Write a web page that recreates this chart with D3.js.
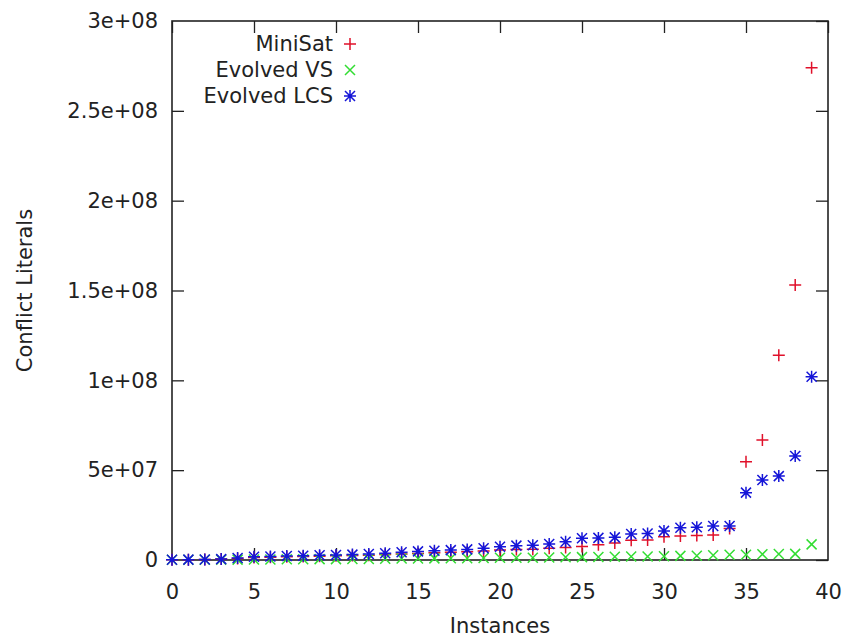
<!DOCTYPE html>
<html>
<head>
<meta charset="utf-8">
<script src="https://cdn.jsdelivr.net/npm/d3@7"></script>
<style>
  body { margin: 0; background: #fff; }
  text { font-family: "DejaVu Sans", sans-serif; fill: #222; }
</style>
</head>
<body>
<div id="chart"></div>
<script>
// valeurs (en millions de littéraux)
const instances = d3.range(0, 40);
const miniSat = [0.1, 0.2, 0.3, 0.5, 0.9, 1.4, 1.6, 1.8, 2.0, 2.1,
                 2.3, 2.5, 2.7, 3.0, 3.3, 3.6, 4.0, 4.3, 4.6, 5.0,
                 5.5, 5.8, 6.0, 6.5, 7.0, 7.5, 8.5, 9.5, 11.0, 11.2,
                 13.0, 13.4, 13.6, 13.9, 17.5, 54.7, 66.8, 114, 153, 274];
const evolvedVS = [0.1, 0.1, 0.1, 0.2, 0.2, 0.3, 0.3, 0.4, 0.4, 0.5,
                   0.5, 0.6, 0.6, 0.7, 0.8, 0.8, 0.9, 1.0, 1.0, 1.1,
                   1.2, 1.3, 1.3, 1.4, 1.5, 1.6, 1.7, 1.8, 1.9, 2.0,
                   2.1, 2.3, 2.4, 2.6, 2.9, 2.9, 3.2, 3.3, 3.4, 8.7];
const evolvedLCS = [0.1, 0.2, 0.3, 0.5, 1.1, 1.8, 2.0, 2.2, 2.4, 2.6,
                    2.8, 3.0, 3.3, 3.8, 4.3, 4.8, 5.2, 5.5, 5.9, 6.5,
                    7.4, 8.0, 8.2, 8.9, 10.2, 12.1, 12.3, 12.6, 14.5, 14.8,
                    16.2, 18.0, 18.2, 18.9, 18.9, 37.5, 44.5, 46.7, 57.9, 102];
const seriesNames = ["MiniSat", "Evolved VS", "Evolved LCS"];
const xTicks = [0, 5, 10, 15, 20, 25, 30, 35, 40];
const yTicks = [0, 5e7, 1e8, 1.5e8, 2e8, 2.5e8, 3e8];
const yTickLabels = ["0", "5e+07", "1e+08", "1.5e+08", "2e+08", "2.5e+08", "3e+08"];

const width = 846, height = 637;
const margin = {top: 21, right: 18, bottom: 77, left: 172};
const w = width - margin.left - margin.right;
const h = height - margin.top - margin.bottom;

const svg = d3.select("#chart").append("svg")
    .attr("width", width)
    .attr("height", height);

const g = svg.append("g").attr("transform", `translate(${margin.left},${margin.top})`);

const x = d3.scaleLinear().domain([0, 40]).range([0, w]);
const y = d3.scaleLinear().domain([0, 3e8]).range([h, 0]);

const tick = 12;

// axes (ticks vers l'intérieur, comme gnuplot)
const xAxis = g.append("g").attr("transform", `translate(0,${h})`)
    .call(d3.axisBottom(x).tickValues(xTicks).tickSize(-tick).tickPadding(tick + 12));
const xTop = g.append("g")
    .call(d3.axisTop(x).tickValues(xTicks).tickSize(-tick).tickFormat(""));
const yAxis = g.append("g")
    .call(d3.axisLeft(y).tickValues(yTicks).tickSize(-tick).tickPadding(tick + 2)
        .tickFormat((d, i) => yTickLabels[i]));
const yRight = g.append("g").attr("transform", `translate(${w},0)`)
    .call(d3.axisRight(y).tickValues(yTicks).tickSize(-tick).tickFormat(""));

[xAxis, xTop, yAxis, yRight].forEach(a => {
    a.select(".domain").remove();
    a.selectAll("line").attr("stroke", "#222").attr("stroke-width", 1.3);
    a.selectAll("text").style("font-size", "21px").attr("fill", "#222");
});
xAxis.selectAll("line").filter(d => d === 0 || d === 40).remove();
yAxis.selectAll("line").filter(d => d === 0 || d === 3e8).remove();

// cadre
g.append("rect")
    .attr("width", w).attr("height", h)
    .attr("fill", "none").attr("stroke", "#222").attr("stroke-width", 1.6);

// symboles
const sz = 6;
const symbols = {
    plus: `M${-sz},0H${sz}M0,${-sz}V${sz}`,
    cross: `M${-5},${-5}L5,5M${-5},5L5,${-5}`,
    star: `M${-sz},0H${sz}M0,${-sz}V${sz}M-5,-5L5,5M-5,5L5,-5`
};
const series = [
    {name: seriesNames[0], values: miniSat, color: "#e0102a", sym: symbols.plus},
    {name: seriesNames[1], values: evolvedVS, color: "#33dd33", sym: symbols.cross},
    {name: seriesNames[2], values: evolvedLCS, color: "#1515d8", sym: symbols.star}
];

series.forEach(s => {
    g.append("g").selectAll("path")
        .data(instances)
        .enter()
        .append("path")
        .attr("d", s.sym)
        .attr("transform", i => `translate(${x(i)},${y(s.values[i] * 1e6)})`)
        .attr("fill", "none")
        .attr("stroke", s.color)
        .attr("stroke-width", 1.5);
});

// légende
const legend = g.append("g");
series.forEach((s, i) => {
    const ly = 23 + i * 26;
    legend.append("text")
        .attr("x", 161).attr("y", ly).attr("dy", "0.35em")
        .attr("text-anchor", "end")
        .style("font-size", "21px")
        .text(s.name);
    legend.append("path")
        .attr("d", s.sym)
        .attr("transform", `translate(178,${ly})`)
        .attr("fill", "none").attr("stroke", s.color).attr("stroke-width", 1.5);
});

// titres des axes
svg.append("text")
    .attr("x", margin.left + w / 2).attr("y", 633)
    .attr("text-anchor", "middle")
    .style("font-size", "21px")
    .text("Instances");
svg.append("text")
    .attr("transform", `translate(32,${margin.top + h / 2}) rotate(-90)`)
    .attr("text-anchor", "middle")
    .style("font-size", "21px")
    .text("Conflict Literals");
</script>
</body>
</html>
